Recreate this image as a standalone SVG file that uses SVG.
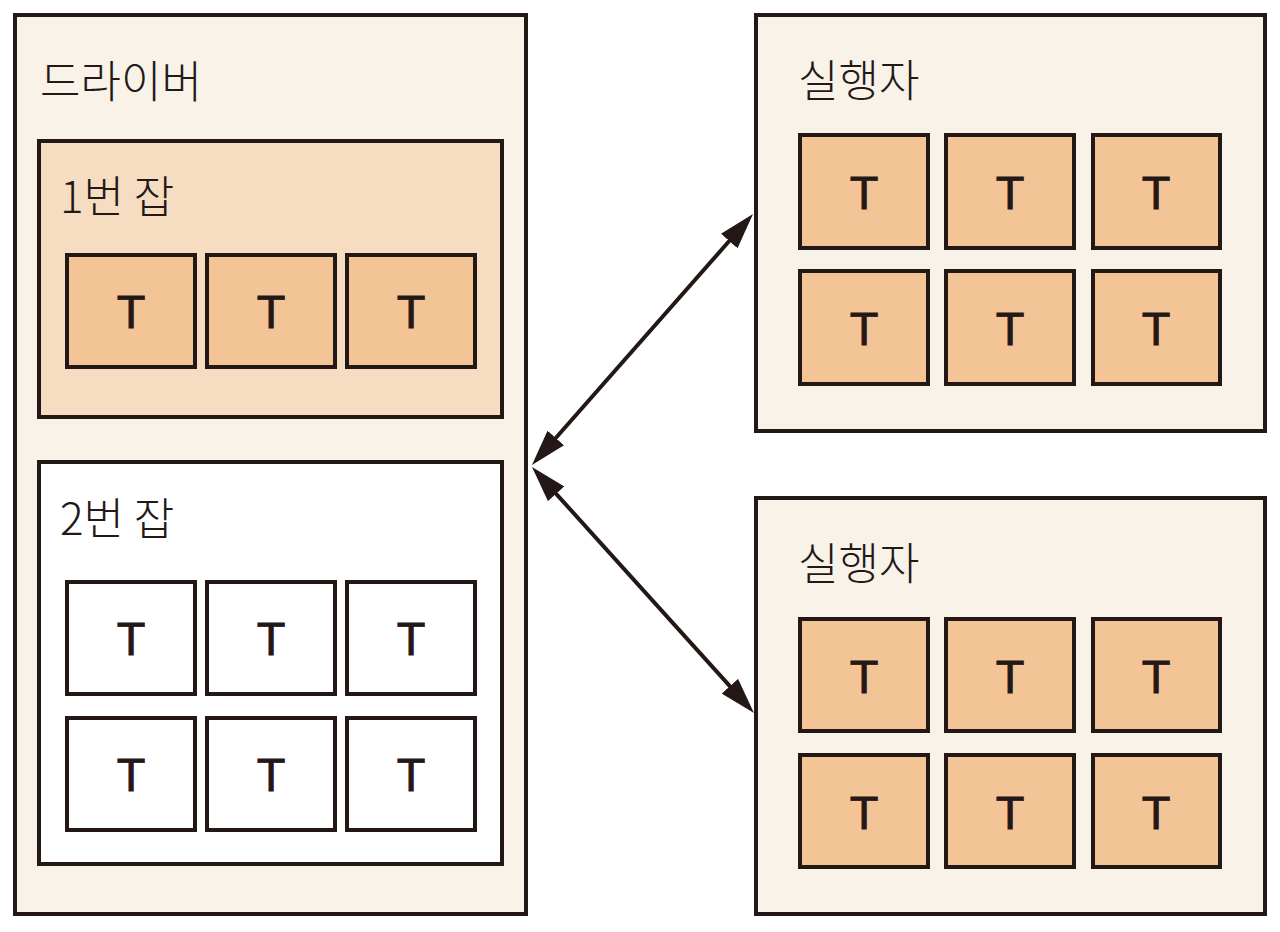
<svg xmlns="http://www.w3.org/2000/svg" width="1280" height="932" viewBox="0 0 1280 932">
  <defs>
    <marker id="arrow" viewBox="0 0 36 22" refX="6" refY="11" markerWidth="36" markerHeight="22" markerUnits="userSpaceOnUse" orient="auto-start-reverse">
      <path d="M0,0 L36,11 L0,22 z" fill="#231816"/>
    </marker>
    <style>
      .box { stroke: #231816; stroke-width: 4; }
      .outer { fill: #f8f2e8; }
      .job1 { fill: #f6dcc1; }
      .job2 { fill: #ffffff; }
      .task { fill: #f3c596; stroke: #231816; stroke-width: 4; }
      .wtask { fill: #ffffff; stroke: #231816; stroke-width: 4; }
      .title { font-family: "Noto Sans CJK KR", "Liberation Sans", sans-serif; font-size: 44px; font-weight: 300; fill: #231816; }
      .t { font-family: "Liberation Sans", Arial, sans-serif; font-size: 47px; fill: #231816; stroke: #231816; stroke-width: 0.8; text-anchor: middle; }
      .conn { stroke: #231816; stroke-width: 4; fill: none; }
    </style>
  </defs>
  <rect width="1280" height="932" fill="#ffffff"/>

  <g id="driver">
    <rect class="box outer" x="15" y="15" width="511" height="899"/>
    <text class="title" x="40" y="98">드라이버</text>
  </g>

  <g id="job1">
    <rect class="box job1" x="39" y="141" width="463" height="276"/>
    <text class="title" x="60" y="213">1번 잡</text>
    <g id="job1-tasks">
      <rect class="task" x="67" y="255" width="128" height="112"/>
      <text class="t" x="131" y="328">T</text>
      <rect class="task" x="207" y="255" width="128" height="112"/>
      <text class="t" x="271" y="328">T</text>
      <rect class="task" x="347" y="255" width="128" height="112"/>
      <text class="t" x="411" y="328">T</text>
    </g>
  </g>

  <g id="job2">
    <rect class="box job2" x="39" y="462" width="463" height="402"/>
    <text class="title" x="60" y="535">2번 잡</text>
    <g id="job2-tasks">
      <rect class="wtask" x="67" y="582" width="128" height="112"/>
      <text class="t" x="131" y="655">T</text>
      <rect class="wtask" x="207" y="582" width="128" height="112"/>
      <text class="t" x="271" y="655">T</text>
      <rect class="wtask" x="347" y="582" width="128" height="112"/>
      <text class="t" x="411" y="655">T</text>
      <rect class="wtask" x="67" y="718" width="128" height="112"/>
      <text class="t" x="131" y="791">T</text>
      <rect class="wtask" x="207" y="718" width="128" height="112"/>
      <text class="t" x="271" y="791">T</text>
      <rect class="wtask" x="347" y="718" width="128" height="112"/>
      <text class="t" x="411" y="791">T</text>
    </g>
  </g>

  <g id="executor1">
    <rect class="box outer" x="756" y="15" width="509" height="416"/>
    <text class="title" x="798" y="97">실행자</text>
    <rect class="task" x="800" y="135" width="128" height="113"/>
    <text class="t" x="864" y="209">T</text>
    <rect class="task" x="946" y="135" width="128" height="113"/>
    <text class="t" x="1010" y="209">T</text>
    <rect class="task" x="1093" y="135" width="127" height="113"/>
    <text class="t" x="1156" y="209">T</text>
    <rect class="task" x="800" y="271" width="128" height="113"/>
    <text class="t" x="864" y="345">T</text>
    <rect class="task" x="946" y="271" width="128" height="113"/>
    <text class="t" x="1010" y="345">T</text>
    <rect class="task" x="1093" y="271" width="127" height="113"/>
    <text class="t" x="1156" y="345">T</text>
  </g>

  <g id="executor2">
    <rect class="box outer" x="756" y="498" width="509" height="416"/>
    <text class="title" x="798" y="580">실행자</text>
    <rect class="task" x="800" y="619" width="128" height="112"/>
    <text class="t" x="864" y="693">T</text>
    <rect class="task" x="946" y="619" width="128" height="112"/>
    <text class="t" x="1010" y="693">T</text>
    <rect class="task" x="1093" y="619" width="127" height="112"/>
    <text class="t" x="1156" y="693">T</text>
    <rect class="task" x="800" y="755" width="128" height="112"/>
    <text class="t" x="864" y="829">T</text>
    <rect class="task" x="946" y="755" width="128" height="112"/>
    <text class="t" x="1010" y="829">T</text>
    <rect class="task" x="1093" y="755" width="127" height="112"/>
    <text class="t" x="1156" y="829">T</text>
  </g>

  <g id="connectors">
    <line class="conn" x1="551.8" y1="442.5" x2="733.2" y2="236.5" marker-start="url(#arrow)" marker-end="url(#arrow)"/>
    <line class="conn" x1="552.1" y1="489.3" x2="733.9" y2="690.7" marker-start="url(#arrow)" marker-end="url(#arrow)"/>
  </g>
</svg>
